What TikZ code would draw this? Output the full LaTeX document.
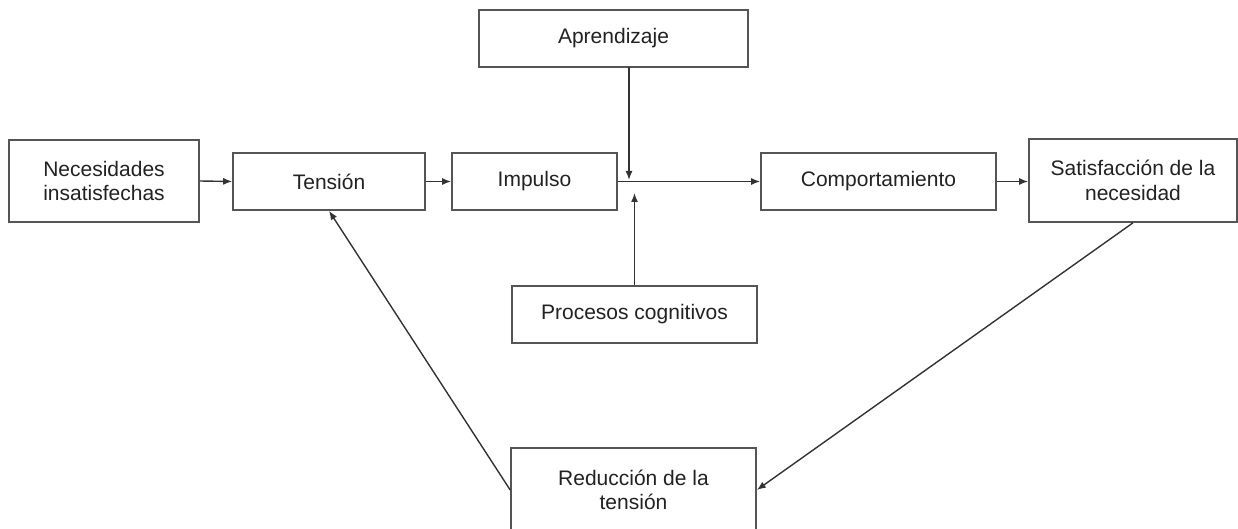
\documentclass[tikz,border=0pt]{standalone}
\usepackage{fontspec}
\setmainfont{Liberation Sans}
\usetikzlibrary{arrows.meta}
\definecolor{boxline}{HTML}{555555}
\definecolor{txt}{HTML}{222222}
\begin{document}
\begin{tikzpicture}[x=1pt,y=-1pt,
  box/.style={draw=boxline,line width=1.6pt,fill=white,align=center,inner sep=0pt,
    text=txt,font=\fontsize{21}{24.5}\selectfont},
  conn/.style={draw=black!80,line width=1.4pt,-{Latex[length=9pt,width=7pt]}}]
\useasboundingbox (0,0) rectangle (1238,529);
\clip (0,0) rectangle (1238,529);
\node[box,minimum width=190pt,minimum height=82pt] (nec) at (104,181) {Necesidades\\insatisfechas};
\node[box,minimum width=192pt,minimum height=57pt] (ten) at (329,181.5) {Tensión};
\node[box,minimum width=165pt,minimum height=57pt] (imp) at (534.5,181.5) {Impulso};
\node[box,minimum width=269pt,minimum height=57pt] (apr) at (613.5,38.5) {Aprendizaje};
\node[box,minimum width=235pt,minimum height=57pt] (com) at (878.5,181.5) {Comportamiento};
\node[box,minimum width=208pt,minimum height=83pt] (sat) at (1133,180.5) {Satisfacción de la\\necesidad};
\node[box,minimum width=245pt,minimum height=57pt] (pro) at (634.5,314.5) {Procesos cognitivos};
\node[box,minimum width=245pt,minimum height=84pt] (red) at (633.5,490) {Reducción de la\\tensión};
\coordinate (aprs) at (629,67);
\coordinate (aprt) at (629,180);
\coordinate (prot) at (634.5,193);
\draw[conn] (nec.east) -- (ten.west);
\draw[conn] (ten.east) -- (imp.west);
\draw[conn] (imp.east) -- (com.west);
\draw[conn] (com.east) -- (com.east -| sat.west);
\draw[conn] (aprs) -- (aprt);
\draw[conn] (pro.north) -- (prot);
\draw[conn] (sat.south) -- (red.east);
\draw[conn] (red.west) -- (ten.south);
\end{tikzpicture}
\end{document}
